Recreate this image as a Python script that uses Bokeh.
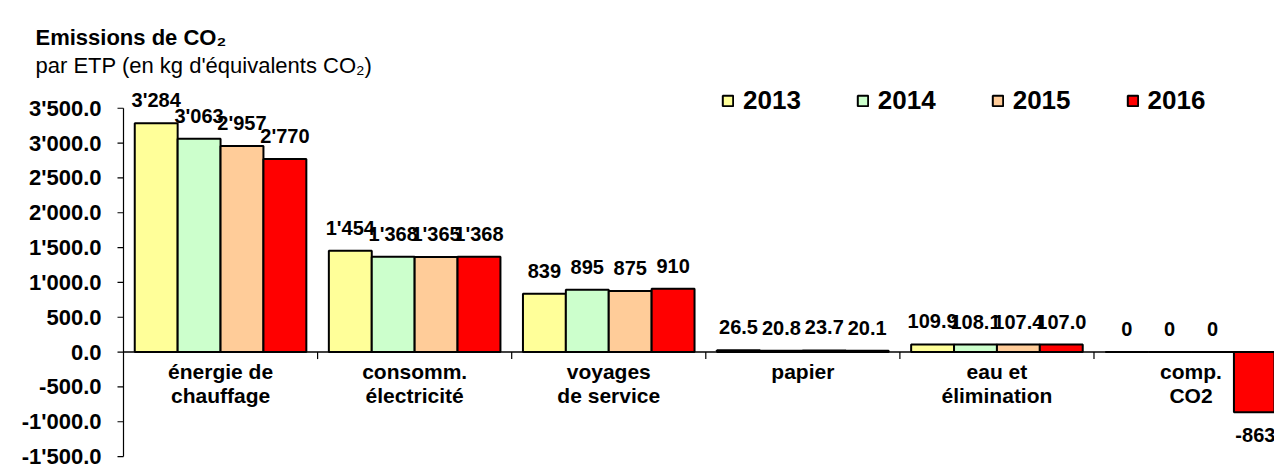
import math
from bokeh.plotting import figure
from bokeh.models import Range1d, Label, Legend, LegendItem, ColumnDataSource
from bokeh.core.properties import value
from bokeh.embed import file_html
from bokeh.resources import INLINE

# ---------------- data ----------------
categories = ["énergie de\nchauffage", "consomm.\nélectricité", "voyages\nde service",
              "papier", "eau et\nélimination", "comp.\nCO2"]
years = ["2013", "2014", "2015", "2016"]
v2013 = [3284, 1454, 839, 26.5, 109.9, 0]
v2014 = [3063, 1368, 895, 20.8, 108.1, 0]
v2015 = [2957, 1365, 875, 23.7, 107.4, 0]
v2016 = [2770, 1368, 910, 20.1, 107.0, -863]
label_decimals = [0, 0, 0, 1, 1, 0]
y_ticks = [-1500, -1000, -500, 0, 500, 1000, 1500, 2000, 2500, 3000, 3500]
title_line1 = "Emissions de CO₂"
title_line2 = "par ETP (en kg d'équivalents CO₂)"

series = [v2013, v2014, v2015, v2016]
colors = ["#FFFF99", "#CCFFCC", "#FFCC99", "#FF0000"]
FONT = "Liberation Sans"


def fmt(v, d):
    s = "{:,.{d}f}".format(v, d=d)
    return s.replace(",", "'")


y_tick_labels = [fmt(t, 1) for t in y_ticks]

# group geometry (each category occupies one unit on the x scale)
margin = 0.058
bw = (1 - 2 * margin) / len(years)

p = figure(width=1274, height=470, output_backend="svg", toolbar_location=None,
           x_range=Range1d(-0.6337, 5.930), y_range=Range1d(-1700, 5047),
           x_axis_type=None, y_axis_type=None,
           min_border_left=0, min_border_right=0, min_border_top=0, min_border_bottom=0)
p.outline_line_color = None
p.background_fill_color = "white"
p.border_fill_color = "white"

# ---- value axis (drawn on the plot's own scales) ----
p.segment(x0=[0], y0=[min(y_ticks)], x1=[0], y1=[max(y_ticks)],
          line_color="black", line_width=1.2)
p.ray(x=[0] * len(y_ticks), y=y_ticks, length=6, length_units="screen",
      angle=math.pi, line_color="black", line_width=1.2)
p.text(x=[0] * len(y_ticks), y=y_ticks, text=y_tick_labels, x_offset=-22,
       text_align="right", text_baseline="middle",
       text_font=value(FONT), text_font_style="bold", text_font_size="22px",
       text_color="black")

# ---- category axis at zero ----
p.ray(x=[0], y=[0], length=0, angle=0, line_color="black", line_width=1.5)
bounds = list(range(1, len(categories)))
p.ray(x=bounds, y=[0] * len(bounds), length=7, length_units="screen",
      angle=-math.pi / 2, line_color="black", line_width=1.2)

# ---- bars + data labels ----
items = []
for j, (yr, vals, col) in enumerate(zip(years, series, colors)):
    xs = [i + margin + (j + 0.5) * bw for i in range(len(categories))]
    src = ColumnDataSource(dict(
        x=xs, top=vals,
        lab=[fmt(v, d) for v, d in zip(vals, label_decimals)],
        off=[-23 if v >= 0 else 23 for v in vals],
    ))
    r = p.vbar(x="x", top="top", bottom=0, width=bw, source=src,
               fill_color=col, line_color="black", line_width=2)
    p.text(x="x", y="top", text="lab", y_offset="off", source=src,
           text_align="center", text_baseline="middle",
           text_font=value(FONT), text_font_style="bold",
           text_font_size="20px", text_color="black")
    items.append(LegendItem(label=yr, renderers=[r]))

# ---- category labels ----
cx = [i + 0.5 for i in range(len(categories))]
p.text(x=cx, y=[0] * len(cx), text=categories, y_offset=8,
       text_align="center", text_baseline="top", text_line_height=1.02,
       text_font=value(FONT), text_font_style="bold", text_font_size="21px",
       text_color="black")

# ---- legend ----
legend = Legend(items=items, orientation="horizontal", location=(721, 354),
                glyph_width=13, glyph_height=13, label_standoff=9, spacing=55,
                padding=0, margin=0, border_line_color=None,
                background_fill_alpha=0,
                label_text_font=FONT, label_text_font_style="bold",
                label_text_font_size="26px", label_text_color="black")
p.add_layout(legend, "center")

# ---- title (two lines) ----
p.add_layout(Label(x=35, y=433, x_units="screen", y_units="screen", text=title_line1,
                   text_font=FONT, text_font_style="bold", text_font_size="22px",
                   text_color="black", text_baseline="alphabetic"))
p.add_layout(Label(x=35, y=405, x_units="screen", y_units="screen", text=title_line2,
                   text_font=FONT, text_font_style="normal", text_font_size="22px",
                   text_color="black", text_baseline="alphabetic"))

open("out.html", "w").write(file_html(p, INLINE))
